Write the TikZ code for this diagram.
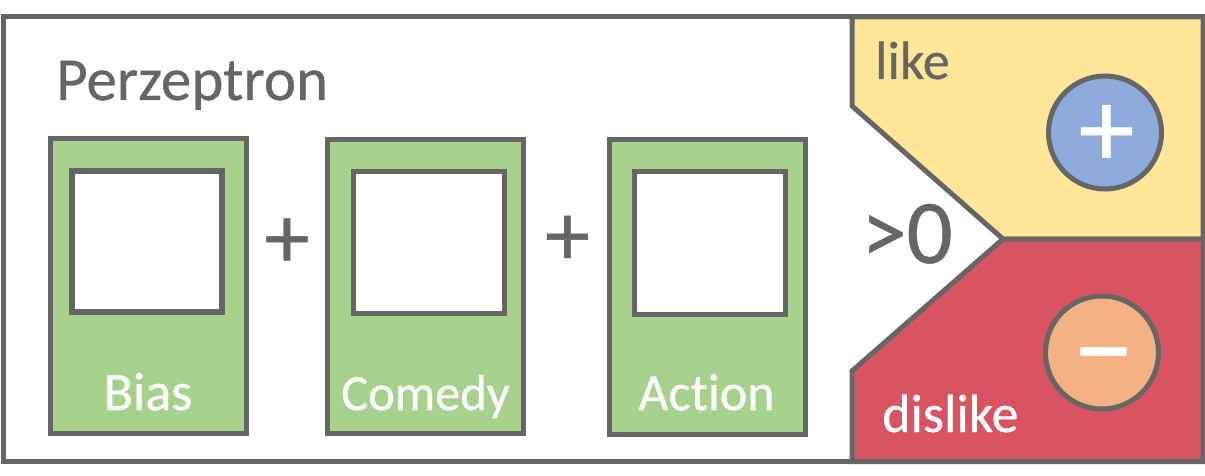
\documentclass[tikz,border=0pt]{standalone}
\usepackage{fontspec}
\setmainfont{Carlito}[RawFeature={embolden=0.5}]
\definecolor{linegray}{HTML}{666666}
\definecolor{cardgreen}{HTML}{A9D18E}
\definecolor{likeyellow}{HTML}{FFE699}
\definecolor{dislikered}{HTML}{D95462}
\definecolor{plusblue}{HTML}{8FAADC}
\definecolor{minusorange}{HTML}{F4B183}
\tikzset{
  card/.style={draw=linegray, line width=5pt, fill=cardgreen, minimum width=196pt, minimum height=294.5pt, inner sep=0pt},
  slot/.style={draw=linegray, line width=5pt, fill=white, minimum width=151pt, minimum height=142.5pt, inner sep=0pt},
  cardtext/.style={text=white, font=\fontsize{54}{54}\selectfont, inner sep=0pt},
  graytext/.style={text=linegray, inner sep=0pt},
  sign/.style={circle, draw=linegray, line width=5pt, minimum size=113pt, inner sep=0pt},
  signtext/.style={text=white, inner sep=0pt, font=\fontsize{112}{112}\selectfont},
}
\begin{document}
\begin{tikzpicture}[x=1pt, y=-1pt]
\useasboundingbox (0,0) rectangle (1205,476);
\draw[linegray, line width=5pt, fill=white] (3,17) rectangle (1203,461.5);
% regions
\draw[linegray, line width=5pt, fill=likeyellow, line join=miter] (852,17) -- (1203,17) -- (1203,239) -- (1003,239) -- (852,106) -- cycle;
\draw[linegray, line width=5pt, fill=dislikered, line join=miter] (1003,239) -- (1203,239) -- (1203,461.5) -- (852,461.5) -- (852,371) -- cycle;
\node[graytext, font=\fontsize{61}{61}\selectfont, anchor=base west] (title) at (56,100) {Perzeptron};
% cards
\node[card] (bias) at (148.5,286) {};
\node[slot, line width=6pt, minimum width=150pt, minimum height=141pt] (biasslot) at (147,241.5) {};
\node[cardtext, anchor=base] (biastext) at (148,410) {Bias};
\node[card] (comedy) at (425.5,286.3) {};
\node[slot] (comedyslot) at (428.5,242.5) {};
\node[cardtext, anchor=base, font=\fontsize{50.5}{51}\selectfont] (comedytext) at (425.5,410) {Comedy};
\node[card] (action) at (707.7,287) {};
\node[slot] (actionslot) at (710,243) {};
\node[cardtext, anchor=base, font=\fontsize{52}{52}\selectfont\addfontfeature{Ligatures=NoCommon}] (actiontext) at (706.5,410) {Action};
% operators
\node[graytext, font=\fontsize{90}{90}\selectfont] (plusa) at (287,243) {+};
\node[graytext, font=\fontsize{90}{90}\selectfont] (plusb) at (567.5,240.5) {+};
\node[graytext, font=\fontsize{91}{91}\selectfont, anchor=base] (threshold) at (907,263) {>0};
% outcomes
\node[graytext, font=\fontsize{54}{54}\selectfont, anchor=base west] (like) at (875,79) {like};
\node[cardtext, anchor=base west] (dislike) at (882,432) {dislike};
\node[sign, fill=plusblue] (plus) at (1105,132.5) {};
\node[sign, fill=minusorange] (minus) at (1102,352.5) {};
\node[signtext] (plussign) at (1106.5,136) {+};
\node[signtext, font=\fontsize{122}{122}\selectfont] (minussign) at (1103.5,369) {−};
\end{tikzpicture}
\end{document}
